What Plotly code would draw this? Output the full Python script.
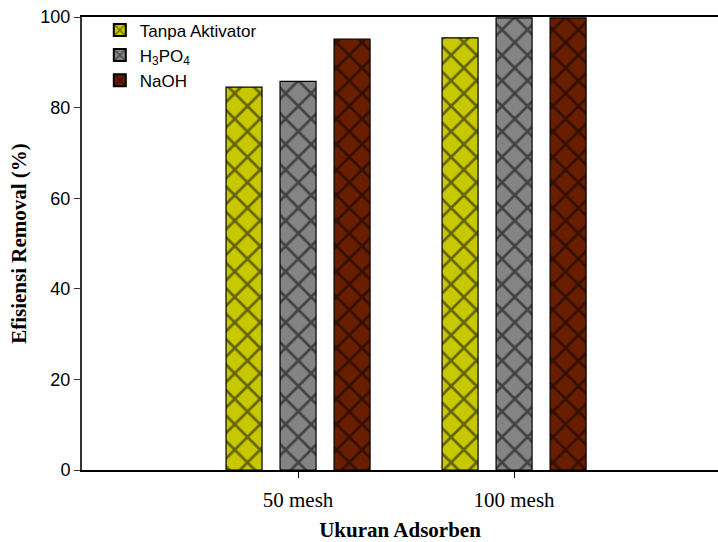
import plotly.graph_objects as go

categories = ["50 mesh", "100 mesh"]
series_names = ["Tanpa Aktivator", "H<sub>3</sub>PO<sub>4</sub>", "NaOH"]
tanpa = [84.5, 95.4]
h3po4 = [85.8, 99.8]
naoh = [95.1, 99.8]
y_ticks = [0, 20, 40, 60, 80, 100]

colors = ["#c8c800", "#848484", "#6a1e00"]
values = [tanpa, h3po4, naoh]
offsets = [-0.3333, -0.0833, 0.1667]

fig = go.Figure()
for name, vals, col, off in zip(series_names, values, colors, offsets):
    fig.add_trace(go.Bar(
        x=categories, y=vals, name=name,
        width=0.1667, offset=off,
        marker=dict(color=col, line=dict(color="black", width=1.2),
                    pattern=dict(shape="x", fgcolor="black", size=18, solidity=0.28,
                                 fillmode="overlay", bgcolor=col)),
    ))

fig.update_layout(
    width=718, height=542,
    barmode="overlay",
    plot_bgcolor="white", paper_bgcolor="white",
    margin=dict(l=82, r=0, t=17, b=72),
    showlegend=True,
    legend=dict(x=0.028, y=1.01, xanchor="left", yanchor="top",
                font=dict(family="Liberation Sans, Arial", size=17, color="black"),
                bgcolor="rgba(0,0,0,0)", tracegroupgap=0, itemsizing="constant"),
    font=dict(family="Liberation Serif, Times New Roman", color="black"),
)
fig.update_xaxes(
    type="category", range=[-1, 1.944],
    showline=True, linecolor="black", linewidth=2, mirror=True,
    ticks="outside", ticklen=6, tickcolor="black", ticklabelstandoff=4,
    tickfont=dict(family="Liberation Serif, Times New Roman", size=21, color="black"),
    title=dict(text="<b>Ukuran Adsorben</b>", standoff=12,
               font=dict(family="Liberation Serif, Times New Roman", size=21, color="black")),
    showgrid=False,
)
fig.update_yaxes(
    range=[0, 100], tickvals=y_ticks,
    showline=True, linecolor="#333333", linewidth=2,
    ticks="outside", ticklen=6, tickcolor="#333333",
    tickfont=dict(family="Liberation Sans, Arial", size=18, color="black"),
    title=dict(text="<b>Efisiensi Removal (%)</b>", standoff=8,
               font=dict(family="Liberation Serif, Times New Roman", size=21, color="black")),
    showgrid=False, zeroline=False,
)

fig.write_html("out.html")
